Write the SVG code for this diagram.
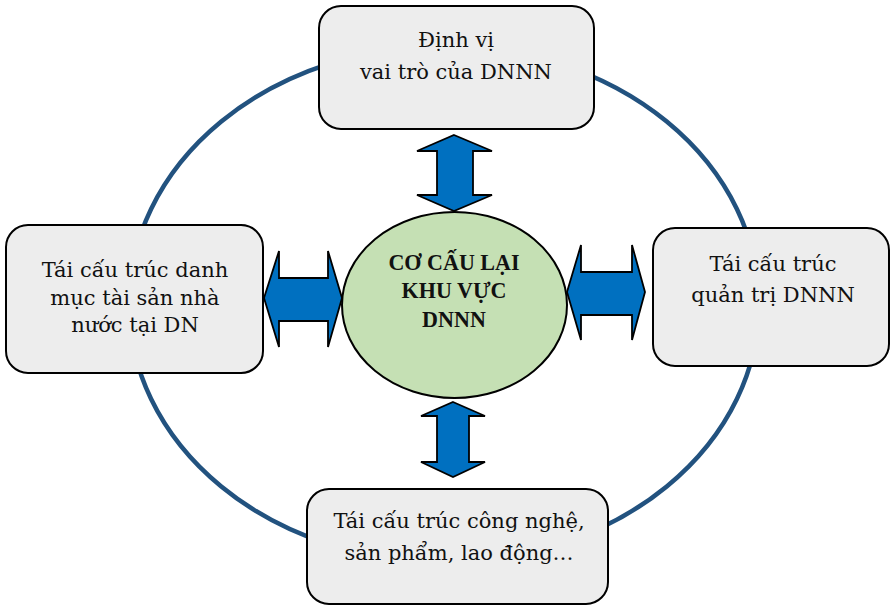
<svg xmlns="http://www.w3.org/2000/svg" width="891" height="606" viewBox="0 0 891 606">
  <defs>
    <style>
      .ring { fill: none; stroke: #22527F; stroke-width: 4.5; }
      .box { fill: #EDEDED; stroke: #000; stroke-width: 2; }
      .lbl { font-family: "DejaVu Serif", "Liberation Serif", serif; font-size: 21px; fill: #111; text-anchor: middle; }
      .core { fill: #C5E0B4; stroke: #000; stroke-width: 2; }
      .coretxt { font-family: "Liberation Serif", "DejaVu Serif", serif; font-weight: bold; font-size: 24px; fill: #111; text-anchor: middle; }
      .arr { fill: #0070C0; stroke: #000; stroke-width: 1.8; stroke-linejoin: miter; }
    </style>
  </defs>
  <rect width="891" height="606" fill="#FFFFFF"/>
  <g id="cycle">
    <ellipse class="ring" cx="444" cy="304" rx="315" ry="258"/>
  </g>
  <g id="connectors">
    <polygon class="arr" points="454,135 492,151 473,151 473,195 492,195 454,211 417,195 437,195 437,151 417,151"/>
    <polygon class="arr" points="453,402 485,416 469,416 469,462 485,462 453,477 421,462 437,462 437,416 421,416"/>
    <polygon class="arr" points="264,298 279,251 279,278 328,278 328,251 342,298 328,347 328,321 279,321 279,347"/>
    <polygon class="arr" points="567,292 581,245 581,272 632,272 632,245 645,292 632,340 632,315 581,315 581,340"/>
  </g>
  <g id="node-top">
    <rect class="box" x="319" y="6" width="275" height="123" rx="22"/>
    <text class="lbl" x="456" y="47">Định vị</text>
    <text class="lbl" x="456" y="79">vai trò của DNNN</text>
  </g>
  <g id="node-left">
    <rect class="box" x="6" y="225" width="257" height="148" rx="22"/>
    <text class="lbl" x="135" y="277">Tái cấu trúc danh</text>
    <text class="lbl" x="135" y="305">mục tài sản nhà</text>
    <text class="lbl" x="135" y="332">nước tại DN</text>
  </g>
  <g id="node-right">
    <rect class="box" x="653" y="228" width="236" height="138" rx="22"/>
    <text class="lbl" x="773" y="271">Tái cấu trúc</text>
    <text class="lbl" x="773" y="302">quản trị DNNN</text>
  </g>
  <g id="node-bottom">
    <rect class="box" x="307" y="489" width="301" height="115" rx="22"/>
    <text class="lbl" x="459" y="528">Tái cấu trúc công nghệ,</text>
    <text class="lbl" x="459" y="560">sản phẩm, lao động…</text>
  </g>
  <g id="node-center">
    <ellipse class="core" cx="454.5" cy="305" rx="112.5" ry="93"/>
    <g transform="translate(454 0) scale(0.92 1) translate(-454 0)">
      <text class="coretxt" x="454" y="270">CƠ CẤU LẠI</text>
      <text class="coretxt" x="454" y="298">KHU VỰC</text>
      <text class="coretxt" x="454" y="327">DNNN</text>
    </g>
  </g>
</svg>
